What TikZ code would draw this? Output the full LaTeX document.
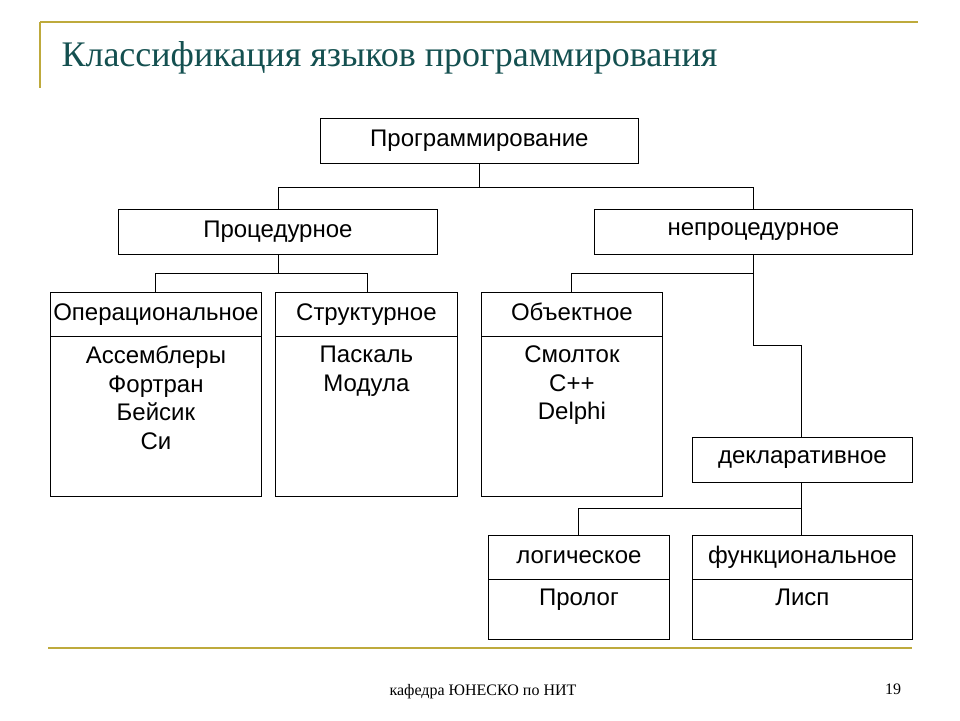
\documentclass[tikz,border=0pt]{standalone}
\usepackage{fontspec}
\setmainfont{Liberation Sans}
\newfontfamily\serifru{Liberation Serif}
\usetikzlibrary{positioning,calc}
\definecolor{frameolive}{RGB}{190,170,60}
\definecolor{titleteal}{RGB}{20,80,80}
\tikzset{
  box/.style={draw, thick, anchor=north west, inner sep=0pt, font=\fontsize{24}{28}\selectfont},
  wire/.style={draw, line width=0.8pt}
}
\begin{document}
\begin{tikzpicture}[x=1pt, y=-1pt]
    \useasboundingbox (0,0) rectangle (960,720);
    % Frame lines and title
    \draw[frameolive, line width=1.5pt] (40,22) -- (40,88);
    \draw[frameolive, line width=1.5pt] (40,22) -- (918,22);
    \draw[frameolive, line width=1.5pt] (48,648) -- (912,648);
    \node[anchor=west, titleteal, font=\serifru\fontsize{36}{40}\selectfont] (title) at (58,58) {Классификация языков программирования};
    \node[font=\serifru\fontsize{16}{18}\selectfont] (foot) at (483,692) {кафедра ЮНЕСКО по НИТ};
    \node[font=\serifru\fontsize{16}{18}\selectfont] (page) at (893,689) {19};

    % Upper boxes
    \node[box, minimum width=318pt, minimum height=45pt] (prog) at (320,118) {Программирование};
    \node[box, minimum width=319pt, minimum height=45pt] (proc) at (118,209) {Процедурное};
    \node[box, minimum width=318pt, minimum height=45pt] (nproc) at (594,209) {непроцедурное};
    \node[box, minimum width=220pt, minimum height=45pt] (decl) at (692,437) {декларативное};

    % Boxes with header and list
    \foreach \nm/\x/\y/\w/\h/\head/\body in {
        oper/50/292/211/204/{Операциональное}/{Ассемблеры\\Фортран\\Бейсик\\Си},
        struct/275/292/182/204/{Структурное}/{Паскаль\\Модула},
        obj/481/292/181/204/{Объектное}/{Смолток\\C++\\Delphi},
        logic/488/535/181/104/{логическое}/{Пролог},
        func/692/535/220/104/{функциональное}/{Лисп}%
    } {
        \node[box, minimum width=\w pt, minimum height=\h pt] (\nm) at (\x,\y) {};
        \node[box, minimum width=\w pt, minimum height=44pt, text height=17pt, text depth=5pt] (\nm-head) at (\x,\y) {\head};
        \node[anchor=north, align=center, inner sep=0pt, font=\fontsize{24}{28.5}\selectfont] (\nm-list) at ($(\nm-head.south)+(0,9)$) {\body};
    }

    % Connectors
    \draw[wire] (prog.south) -- ++(0,24) -| (proc.north);
    \draw[wire] (prog.south) ++(0,24) -| (nproc.north);
    \draw[wire] (proc.south) -- ++(0,19) -| ([xshift=105pt]oper.north west);
    \draw[wire] (proc.south) ++(0,19) -| ([xshift=-90pt]struct.north east);
    \draw[wire] (nproc.south) -- ++(0,19) -| ([xshift=90pt]obj.north west);
    \draw[wire] (nproc.south) -- ++(0,91) -| ([xshift=109pt]decl.north west);
    \draw[wire] ([xshift=109pt]decl.south west) -- ++(0,26) -| ([xshift=90pt]logic.north west);
    \draw[wire] ([xshift=109pt]decl.south west) -- ([xshift=109pt]func.north west);
\end{tikzpicture}
\end{document}
